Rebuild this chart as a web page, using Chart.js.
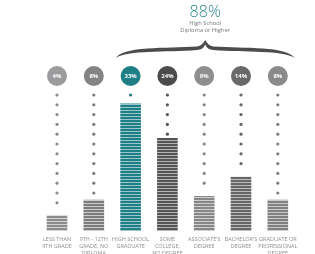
<!DOCTYPE html>
<html>
<head>
<meta charset="utf-8">
<script src="https://cdn.jsdelivr.net/npm/chart.js@4.4.1/dist/chart.umd.min.js"></script>
<style>
  html, body { margin: 0; padding: 0; background: #fff; overflow: hidden; }
  #wrap { width: 315px; height: 254px; }
</style>
</head>
<body>
<div id="wrap"><canvas id="myChart" width="315" height="254"></canvas></div>
<script>
// education levels and their shares (%)
const categories = [
  ['LESS THAN', '9TH GRADE'],
  ['9TH - 12TH', 'GRADE, NO', 'DIPLOMA'],
  ['HIGH SCHOOL', 'GRADUATE'],
  ['SOME', 'COLLEGE,', 'NO DEGREE'],
  ["ASSOCIATE'S", 'DEGREE'],
  ["BACHELOR'S", 'DEGREE'],
  ['GRADUATE OR', 'PROFESSIONAL', 'DEGREE']
]
const shares = [4, 8, 33, 24, 9, 14, 8]
const shareLabels = ['4%', '8%', '33%', '24%', '9%', '14%', '8%']
const totalLabel = '88%'
const totalText = ['High School', 'Diploma or Higher']

const circleColors = ['#9c9c9e', '#848486', '#1f7f86', '#4b4b4d', '#8f8f91', '#69696b', '#8a8a8c']
const barColors = ['#8c8c8c', '#7c7c7c', '#1f7f86', '#555555', '#878787', '#666666', '#808080']
const gapColors = ['#d2d2d2', '#cccccc', '#9cc5c8', '#b4b4b4', '#cfcfcf', '#bdbdbd', '#cbcbcb']

function stripes(col, gap){
  const c = document.createElement('canvas')
  c.width = 1; c.height = 3
  const g = c.getContext('2d')
  g.fillStyle = col; g.fillRect(0, 0, 1, 2)
  g.fillStyle = gap; g.fillRect(0, 2, 1, 1)
  return g.createPattern(c, 'repeat')
}

const decor = {
  id: 'decor',
  afterDatasetsDraw(chart){
    const ctx = chart.ctx
    const xs = chart.scales.x, ys = chart.scales.y
    const top = chart.chartArea.top
    ctx.save()
    shares.forEach((v, i) => {
      const x = xs.getPixelForValue(i)
      const barTop = ys.getPixelForValue(v)
      // dotted guide
      ctx.fillStyle = barColors[i]
      for (let y = top - 1; y <= barTop - 4; y += 9.8) {
        ctx.beginPath(); ctx.arc(x, y, 1.6, 0, Math.PI * 2); ctx.fill()
      }
      // value bubble
      ctx.fillStyle = circleColors[i]
      ctx.beginPath(); ctx.arc(x, top - 20, 10, 0, Math.PI * 2); ctx.fill()
      ctx.fillStyle = '#fff'
      ctx.font = 'bold 6px "Open Sans", sans-serif'
      ctx.textAlign = 'center'; ctx.textBaseline = 'middle'
      ctx.fillText(shareLabels[i], x, top - 19.5)
    })

    // brace over high school and above
    const l = xs.getPixelForValue(2) - 15
    const r = xs.getPixelForValue(6) + 17
    const m = (l + r) / 2
    const by = 58
    ctx.fillStyle = '#4c4c4c'
    ctx.beginPath()
    ctx.moveTo(l, by)
    ctx.bezierCurveTo(l + 8, by - 12, m - 40, by - 9.5, m - 8, by - 11.5)
    ctx.quadraticCurveTo(m - 3, by - 12.5, m, by - 18)
    ctx.quadraticCurveTo(m + 3, by - 12.5, m + 8, by - 11.5)
    ctx.bezierCurveTo(m + 40, by - 9.5, r - 8, by - 12, r, by)
    ctx.bezierCurveTo(r - 12, by - 8, m + 40, by - 5.5, m + 8, by - 8)
    ctx.quadraticCurveTo(m + 2, by - 8.5, m, by - 13.5)
    ctx.quadraticCurveTo(m - 2, by - 8.5, m - 8, by - 8)
    ctx.bezierCurveTo(m - 40, by - 5.5, l + 12, by - 8, l, by)
    ctx.closePath()
    ctx.fill()

    ctx.textAlign = 'center'; ctx.textBaseline = 'middle'
    ctx.fillStyle = '#2a878e'
    ctx.font = '300 16px "Open Sans", sans-serif'
    ctx.fillText(totalLabel, m, 12.5)
    ctx.fillStyle = '#777'
    ctx.font = '5.8px "Open Sans", sans-serif'
    ctx.fillText(totalText[0], m, 23)
    ctx.fillText(totalText[1], m, 30)
    ctx.restore()
  }
}

const ctx = document.getElementById('myChart').getContext('2d')
const myChart = new Chart(ctx, {
  type: 'bar',
  data: {
    labels: categories,
    datasets: [{
      data: shares,
      backgroundColor: shares.map((v, i) => stripes(barColors[i], gapColors[i])),
      borderWidth: 0,
      barThickness: 20
    }]
  },
  options: {
    responsive: false,
    animation: false,
    layout: { padding: { top: 96, left: 38.6, right: 18.8, bottom: 0 } },
    plugins: { legend: { display: false }, tooltip: { enabled: false } },
    scales: {
      x: {
        grid: { display: false, drawTicks: false },
        border: { display: false },
        ticks: {
          color: '#8f8f8f',
          padding: 5,
          maxRotation: 0,
          autoSkip: false,
          font: { family: '"Open Sans", sans-serif', size: 5.5, lineHeight: 1.3 }
        },
        afterFit(scale) { scale.height = 23 }
      },
      y: {
        display: false,
        min: 0,
        max: 35
      }
    }
  },
  plugins: [decor]
})
</script>
</body>
</html>
